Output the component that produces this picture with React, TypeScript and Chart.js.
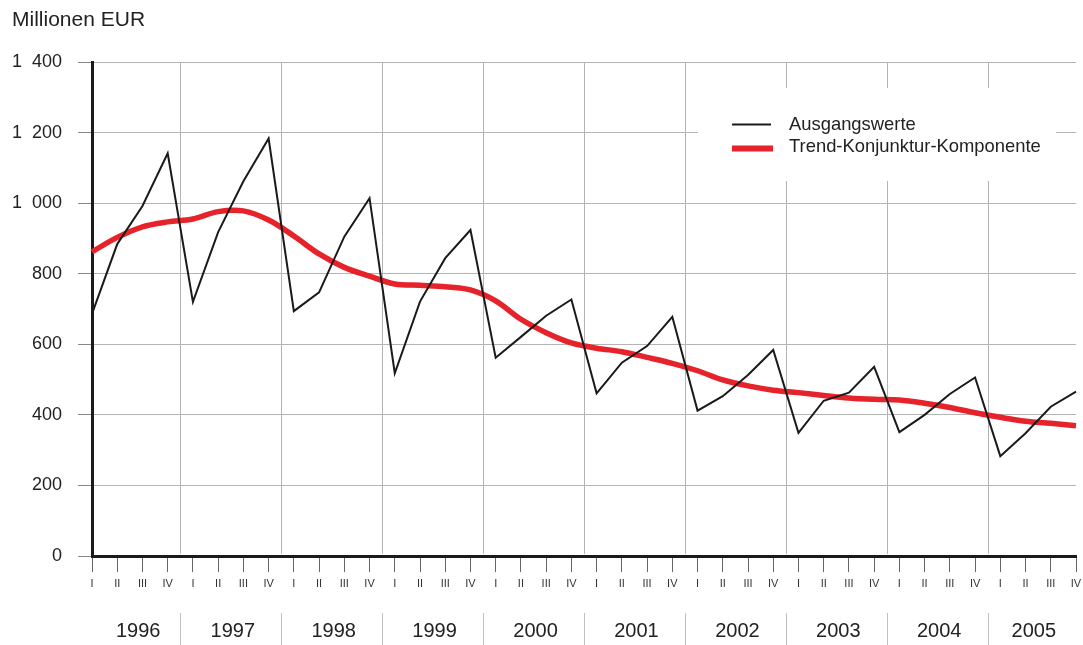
import React, { useEffect, useRef } from 'react';
import { Chart, registerables } from 'chart.js';

Chart.register(...registerables);

const years = ['1996', '1997', '1998', '1999', '2000', '2001', '2002', '2003', '2004', '2005'];
const quarters = ['I', 'II', 'III', 'IV'];

const ausgangswerte = [
  686, 884, 992, 1141,
  720, 918, 1062, 1183,
  694, 747, 905, 1014,
  518, 721, 844, 924,
  562, 621, 681, 727,
  461, 548, 595, 678,
  412, 453, 513, 584,
  349, 440, 463, 536,
  351, 400, 459, 506,
  283, 348, 423, 466,
];

const trend = [
  862, 903, 933, 947,
  955, 976, 978, 952,
  907, 856, 818, 793,
  771, 767, 763, 754,
  723, 671, 633, 604,
  589, 579, 563, 546,
  525, 499, 482, 470,
  463, 455, 448, 444,
  442, 433, 421, 406,
  393, 382, 376, 369,
];

const yMin = 0;
const yMax = 1400;
const yStep = 200;

const seriesNames = ['Ausgangswerte', 'Trend-Konjunktur-Komponente'];
const unitTitle = 'Millionen EUR';

const labels: string[] = [];
years.forEach((y) => quarters.forEach((q) => labels.push(`${y} ${q}`)));

const FONT = '"Liberation Sans", Arial, Helvetica, sans-serif';
const GRID = '#b4b4b4';
const AXIS = '#1a1a1a';
const BLACK = '#1a1a1a';
const RED = '#e6222a';
const TEXT = '#222222';

const fmt = (v: number) => {
  const s = String(Math.round(v));
  return s.length > 3 ? s.slice(0, s.length - 3) + '  ' + s.slice(s.length - 3) : s;
};

const decorPlugin = {
  id: 'decor',
  beforeDatasetsDraw(chart: any) {
    const { ctx, chartArea, scales } = chart;
    const x = scales.x;
    ctx.save();
    ctx.strokeStyle = GRID;
    ctx.lineWidth = 1;
    for (let k = 1; k < years.length; k++) {
      const px = (x.getPixelForValue(4 * k - 1) + x.getPixelForValue(4 * k)) / 2;
      const xx = Math.round(px) + 0.5;
      ctx.beginPath();
      ctx.moveTo(xx, chartArea.top);
      ctx.lineTo(xx, chartArea.bottom - 2);
      ctx.stroke();
    }
    // legend background
    ctx.fillStyle = '#ffffff';
    ctx.fillRect(698, 88, 358, 93);
    // legend items
    ctx.lineCap = 'butt';
    ctx.strokeStyle = BLACK;
    ctx.lineWidth = 2;
    ctx.beginPath();
    ctx.moveTo(732, 124.5);
    ctx.lineTo(771, 124.5);
    ctx.stroke();
    ctx.strokeStyle = RED;
    ctx.lineWidth = 6;
    ctx.beginPath();
    ctx.moveTo(732, 148.5);
    ctx.lineTo(773, 148.5);
    ctx.stroke();
    ctx.fillStyle = TEXT;
    ctx.font = `18.4px ${FONT}`;
    ctx.textAlign = 'left';
    ctx.textBaseline = 'alphabetic';
    ctx.fillText(seriesNames[0], 789, 130);
    ctx.fillText(seriesNames[1], 789, 152);
    ctx.restore();
  },
  afterDraw(chart: any) {
    const { ctx, scales } = chart;
    const x = scales.x;
    ctx.save();
    // title
    ctx.fillStyle = TEXT;
    ctx.font = `21px ${FONT}`;
    ctx.textAlign = 'left';
    ctx.textBaseline = 'alphabetic';
    ctx.fillText(unitTitle, 12, 26);
    // year separators
    ctx.strokeStyle = '#c0c0c0';
    ctx.lineWidth = 1;
    const bounds: number[] = [x.getPixelForValue(0)];
    for (let k = 1; k < years.length; k++) {
      const px = (x.getPixelForValue(4 * k - 1) + x.getPixelForValue(4 * k)) / 2;
      bounds.push(px);
      const xx = Math.round(px) + 0.5;
      ctx.beginPath();
      ctx.moveTo(xx, 613);
      ctx.lineTo(xx, 645);
      ctx.stroke();
    }
    bounds.push(x.getPixelForValue(labels.length - 1));
    // year labels
    ctx.font = `20px ${FONT}`;
    ctx.textAlign = 'center';
    ctx.textBaseline = 'middle';
    years.forEach((y, i) => {
      const cx = (bounds[i] + bounds[i + 1]) / 2 + 2;
      ctx.fillText(y, cx, 631);
    });
    ctx.restore();
  },
};

export default function App() {
  const ref = useRef<HTMLCanvasElement | null>(null);

  useEffect(() => {
    if (!ref.current) return;
    const chart = new Chart(ref.current, {
      type: 'line',
      data: {
        labels,
        datasets: [
          {
            label: seriesNames[0],
            data: ausgangswerte,
            borderColor: BLACK,
            backgroundColor: BLACK,
            borderWidth: 2,
            pointRadius: 0,
            tension: 0,
            fill: false,
          },
          {
            label: seriesNames[1],
            data: trend,
            borderColor: RED,
            backgroundColor: RED,
            borderWidth: 5.5,
            pointRadius: 0,
            tension: 0.35,
            fill: false,
          },
        ],
      },
      options: {
        responsive: false,
        animation: false,
        devicePixelRatio: 1,
        layout: { padding: { top: 62, right: 7, left: 0, bottom: 0 } },
        plugins: {
          legend: { display: false },
          title: { display: false },
          tooltip: { enabled: false },
        },
        scales: {
          x: {
            type: 'category',
            offset: false,
            grid: {
              display: true,
              drawOnChartArea: false,
              drawTicks: true,
              tickLength: 16,
              tickColor: '#666666',
              tickWidth: 1,
            },
            border: { display: true, color: AXIS, width: 3 },
            ticks: {
              autoSkip: false,
              maxRotation: 0,
              minRotation: 0,
              padding: 5,
              color: '#333333',
              font: { family: FONT, size: 11 },
              callback: (_v: any, i: number) => quarters[i % 4],
            },
            afterFit: (s: any) => {
              s.height = 89;
              s.paddingLeft = 0;
              s.paddingRight = 0;
            },
          },
          y: {
            min: yMin,
            max: yMax,
            grid: { color: GRID, lineWidth: 1, tickLength: 14, tickColor: '#888888' },
            border: { display: true, color: AXIS, width: 3 },
            ticks: {
              stepSize: yStep,
              padding: 16,
              color: TEXT,
              font: { family: FONT, size: 18 },
              callback: (v: any) => fmt(Number(v)),
            },
            afterFit: (s: any) => {
              s.width = 92;
              s.paddingTop = 0;
              s.paddingBottom = 0;
            },
          },
        },
      },
      plugins: [decorPlugin],
    });
    return () => chart.destroy();
  }, []);

  return (
    <div style={{ position: 'absolute', left: 0, top: 0, width: 1083, height: 645, background: '#fff' }}>
      <canvas ref={ref} width={1083} height={645} />
    </div>
  );
}
